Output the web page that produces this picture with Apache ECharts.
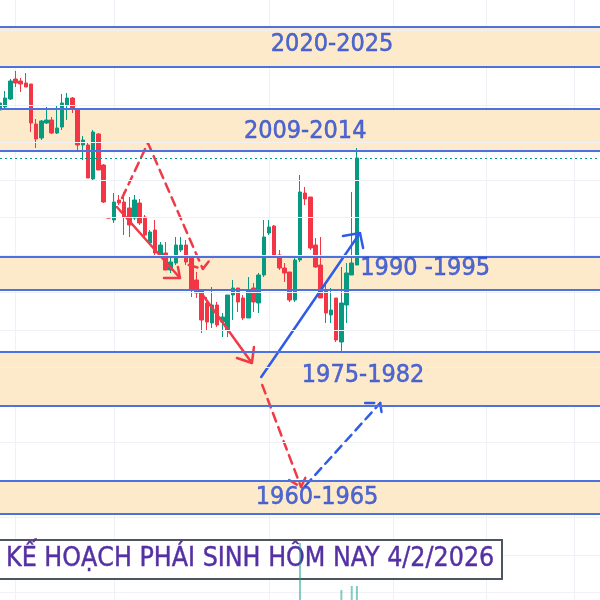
<!DOCTYPE html>
<html>
<head>
<meta charset="utf-8">
<script src="https://cdn.jsdelivr.net/npm/echarts@6/dist/echarts.min.js"></script>
<style>
  html, body { margin: 0; padding: 0; background: #fff; }
  #chart { width: 600px; height: 600px; }
</style>
</head>
<body>
<div id="chart"></div>
<script>
// candle slots on the time axis (70 candles + empty space to the right)
const categories = Array.from({ length: 117 }, (_, i) => String(i + 1))

// [open, close, low, high]
const candles = [
  [520, 527, 518, 530], [523, 532, 522, 539], [531, 549, 530, 551], [551, 547, 543, 559],
  [549, 546, 538, 552], [547, 543, 543, 557], [546, 507, 498, 546], [506, 491, 482, 511],
  [492, 509, 490, 510], [507, 510, 506, 523], [510, 497, 496, 513], [497, 502, 496, 524],
  [503, 527, 500, 536], [525, 532, 510, 537], [532, 522, 517, 533], [521, 485, 478, 522],
  [485, 490, 470, 494], [485, 452, 452, 487], [451, 498, 450, 500], [496, 460, 460, 497],
  [465, 428, 427, 466], [412, 412, 412, 413], [410, 428, 407, 437], [430, 427, 425, 435],
  [428, 413, 395, 438], [422, 405, 393, 433], [412, 430, 410, 435], [427, 407, 405, 431],
  [413, 395, 393, 415], [387, 398, 385, 400], [400, 377, 375, 410], [373, 385, 372, 388],
  [377, 360, 360, 388], [360, 368, 357, 372], [367, 385, 365, 393], [380, 385, 378, 393],
  [385, 368, 365, 390], [372, 340, 333, 373], [350, 337, 332, 358], [340, 310, 297, 340],
  [327, 308, 300, 333], [307, 325, 302, 343], [325, 305, 303, 328], [308, 313, 293, 317],
  [300, 335, 293, 335], [335, 342, 310, 350], [342, 328, 318, 342], [332, 312, 310, 335],
  [312, 340, 312, 353], [342, 328, 318, 347], [327, 355, 317, 357], [355, 393, 353, 410],
  [397, 403, 395, 410], [404, 374, 373, 405], [375, 362, 360, 380], [362, 357, 348, 367],
  [358, 330, 328, 358], [330, 370, 328, 372], [370, 438, 368, 455], [437, 431, 425, 443],
  [433, 382, 380, 433], [385, 363, 362, 392], [365, 332, 332, 393], [340, 317, 307, 347],
  [315, 320, 307, 342], [332, 290, 288, 332], [288, 327, 278, 363], [325, 357, 307, 367],
  [355, 367, 355, 438], [365, 472, 365, 482],
]

// volume bars that reach into view: [slot, value]
const volumeBars = [[58, 87], [66, 40], [68, 44], [69, 44]]

// historical zones [low, high, label]
const zones = [
  [563, 603, '2020-2025'],
  [479, 521, '2009-2014'],
  [340, 373, '1990 -1995'],
  [224, 278, '1975-1982'],
  [116, 149, '1960-1965'],
]
// label anchor for each zone: [slot, price]
const zoneLabelPos = [[64.2, 586], [59.0, 499], [82.2, 362], [70.2, 255], [61.3, 133]]

const lastPrice = 472
// faint price grid levels and time grid slots
const priceGrid = [37.5, 75, 112.5, 150, 187.5, 225, 262.5, 300, 337.5, 375, 412.5, 450, 487.5, 525, 562.5, 600]
const timeGridSlots = [3, 22, 52, 76, 94, 111]

// drawn paths: [slot, price] points
const redDashPath = [[23.6, 432], [28.6, 487], [39.2, 361]]
const redDashHead = [[36.5, 365], [39.2, 361], [41.2, 374]]
const redArrow1 = [[22.6, 423], [34.8, 352]]
const redArrow1Head = [[31.7, 352], [34.8, 352], [34.4, 363]]
const redArrow2 = [[38.5, 340], [48.7, 267]]
const redArrow2Head = [[45.8, 272], [48.7, 267], [49.1, 283]]
const redDash2 = [[50.7, 245], [58.2, 143]]
const redDash2Head = [[55.9, 150], [58.2, 143], [59.2, 154]]
const blueDash = [[59.0, 144], [73.5, 227]]
const blueDashHead = [[70.6, 227], [73.5, 227], [73.9, 213]]
const blueArrow = [[50.5, 253], [69.6, 397]]
const blueArrowHead = [[66.3, 394], [69.6, 397], [70.2, 382]]

const RED = '#f03a47'
const BLUE = '#2f5ce6'
const UP = '#089981'
const DOWN = '#f23645'
const ZONE_LINE = '#4d72e0'
const LABEL_BLUE = '#2446cf'
const NOTE_PURPLE = '#5530a3'

const drawings = [
  { data: redDashPath, color: RED, dashed: true },
  { data: redDashHead, color: RED, dashed: true },
  { data: redArrow1, color: RED },
  { data: redArrow1Head, color: RED },
  { data: redArrow2, color: RED },
  { data: redArrow2Head, color: RED },
  { data: redDash2, color: RED, dashed: true },
  { data: redDash2Head, color: RED, dashed: true },
  { data: blueDash, color: BLUE, dashed: true },
  { data: blueDashHead, color: BLUE, dashed: true },
  { data: blueArrow, color: BLUE },
  { data: blueArrowHead, color: BLUE },
]

const chart = echarts.init(document.getElementById('chart'))

chart.setOption({
  animation: false,
  backgroundColor: '#ffffff',
  title: {
    text: 'KẾ HOẠCH PHÁI SINH HÔM NAY 4/2/2026',
    left: -2,
    top: 540,
    padding: [6, 8, 6, 8],
    backgroundColor: '#ffffff',
    borderColor: '#4f5560',
    borderWidth: 2,
    textStyle: {
      color: NOTE_PURPLE,
      fontFamily: 'DejaVu Sans Condensed',
      fontSize: 26.5,
      fontWeight: 'normal',
      textBorderColor: NOTE_PURPLE,
      textBorderWidth: 0.4,
    },
  },
  grid: { left: 0, right: 0, top: 0, bottom: 0 },
  xAxis: [
    {
      type: 'category',
      data: categories,
      boundaryGap: false,
      axisLine: { show: false },
      axisTick: { show: false },
      axisLabel: { show: false },
      splitLine: {
        show: true,
        interval: (index) => timeGridSlots.includes(index),
        lineStyle: { color: '#eff1f6', width: 1 },
      },
    },
    {
      type: 'value',
      min: 0,
      max: 116,
      show: false,
    },
  ],
  yAxis: {
    type: 'value',
    min: 30,
    max: 630,
    axisLine: { show: false },
    axisTick: { show: false },
    axisLabel: { show: false },
    splitLine: { show: false },
  },
  series: [
    {
      name: 'price grid',
      type: 'line',
      data: [],
      z: 0,
      silent: true,
      markLine: {
        silent: true,
        symbol: 'none',
        label: { show: false },
        lineStyle: { color: '#eff1f6', width: 1, type: 'solid' },
        data: priceGrid.map((v) => ({ yAxis: v })),
      },
    },
    {
      name: 'zones',
      type: 'line',
      data: [],
      z: 1,
      silent: true,
      markArea: {
        silent: true,
        itemStyle: { color: '#fdeacb' },
        data: zones.map(([lo, hi]) => [{ yAxis: lo }, { yAxis: hi }]),
      },
      markLine: {
        silent: true,
        symbol: 'none',
        label: { show: false },
        data: [
          ...zones.flatMap(([lo, hi]) => [
            { yAxis: lo, lineStyle: { color: ZONE_LINE, width: 2, type: 'solid' } },
            { yAxis: hi, lineStyle: { color: ZONE_LINE, width: 2, type: 'solid' } },
          ]),
          { yAxis: lastPrice, lineStyle: { color: UP, width: 1, type: [2, 3] } },
        ],
      },
    },
    {
      name: 'price',
      type: 'candlestick',
      xAxisIndex: 0,
      data: candles,
      barWidth: 4,
      z: 3,
      itemStyle: {
        color: UP,
        color0: DOWN,
        borderColor: UP,
        borderColor0: DOWN,
        borderWidth: 1,
      },
    },
    ...drawings.map((d) => ({
      type: 'line',
      xAxisIndex: 1,
      data: d.data,
      showSymbol: false,
      z: 4,
      lineStyle: {
        color: d.color,
        width: 2.5,
        type: d.dashed ? [9, 6] : 'solid',
        cap: 'round',
      },
    })),
    {
      name: 'zone labels',
      type: 'scatter',
      xAxisIndex: 1,
      symbolSize: 1,
      z: 5,
      itemStyle: { color: 'rgba(0,0,0,0)' },
      data: zones.map((z, i) => ({ name: z[2], value: zoneLabelPos[i] })),
      label: {
        show: true,
        position: 'inside',
        formatter: (p) => p.name,
        color: LABEL_BLUE,
        fontFamily: 'DejaVu Sans Condensed',
        fontSize: 25,
        textBorderColor: LABEL_BLUE,
        textBorderWidth: 0.5,
      },
    },
    {
      name: 'volume',
      type: 'bar',
      xAxisIndex: 0,
      data: volumeBars,
      barWidth: 2,
      z: 10,
      itemStyle: { color: 'rgba(8,153,129,0.5)' },
    },
  ],
})
</script>
</body>
</html>
